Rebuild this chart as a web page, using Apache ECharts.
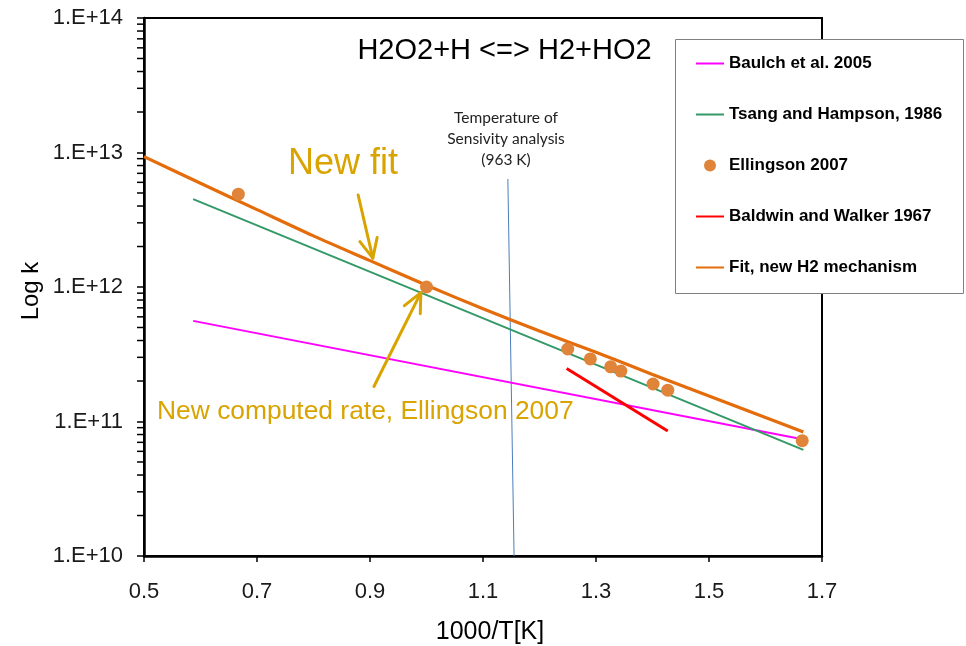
<!DOCTYPE html>
<html><head><meta charset="utf-8">
<script src="https://cdn.jsdelivr.net/npm/echarts@6/dist/echarts.min.js"></script>
<style>html,body{margin:0;padding:0;background:#fff}#c{width:966px;height:646px}</style>
</head><body><div id="c"></div>
<script>
// ---- data (x = 1000/T [K], y = k) ----
const fitX = [0.5, 0.6, 0.7, 0.8, 0.9, 1.0, 1.1, 1.2, 1.3, 1.4, 1.5, 1.6, 1.667];
const fitK = [9.31e12, 5.90e12, 3.76e12, 2.40e12, 1.57e12, 1.03e12, 6.89e11, 4.71e11, 3.27e11, 2.24e11, 1.55e11, 1.07e11, 8.36e10];
const tsangX = [0.587, 1.667];
const tsangK = [4.5e12, 6.15e10];
const baulchX = [0.587, 1.663];
const baulchK = [5.6e11, 7.4e10];
const baldwinX = [1.248, 1.427];
const baldwinK = [2.48e11, 8.5e10];
const ellX = [0.667, 1.0, 1.25, 1.29, 1.326, 1.344, 1.401, 1.427, 1.665];
const ellK = [4.9e12, 1.0e12, 3.46e11, 2.92e11, 2.55e11, 2.37e11, 1.90e11, 1.71e11, 7.2e10];
const sensX = [1.144, 1.155];
const sensK = [6.35e12, 1.0e10];
const seriesNames = ['Baulch et al. 2005', 'Tsang and Hampson, 1986', 'Ellingson 2007', 'Baldwin and Walker 1967', 'Fit, new H2 mechanism'];
const yDecades = [10, 11, 12, 13];
const minorMult = [2, 3, 4, 5, 6, 7, 8, 9];
// annotation arrows (data coords): [tailX, tailK, tipX, tipK]
const arrowNewFit = [0.879, 4.83e12, 0.905, 1.64e12];
const arrowEll = [0.907, 1.82e11, 0.990, 9.08e11];

const zip = (xs, ys) => xs.map((x, i) => [x, ys[i]]);
const minorTicks = [];
yDecades.forEach(d => minorMult.forEach(m => minorTicks.push([0.5, m * Math.pow(10, d)])));

const gold = '#D9A300';
const sans = 'Liberation Sans, Arial, sans-serif';
const lineIcon = 'path://M0,0H28V2H0Z';
const chart = echarts.init(document.getElementById('c'));
chart.setOption({
  animation: false,
  backgroundColor: '#fff',
  grid: { left: 144, top: 18, right: 144, bottom: 90, show: true, borderColor: '#000', borderWidth: 2 },
  xAxis: {
    type: 'value', min: 0.5, max: 1.7, interval: 0.2,
    axisLine: { lineStyle: { color: '#000', width: 2.5 } },
    axisTick: { show: true, inside: false, length: 6, lineStyle: { color: '#000', width: 1.5 } },
    axisLabel: { fontSize: 22, color: '#1a1a1a', fontFamily: sans, margin: 25, formatter: v => v.toFixed(1) },
    splitLine: { show: false }
  },
  yAxis: {
    type: 'log', logBase: 10, min: 1e10, max: 1e14, splitNumber: 4,
    axisLine: { show: true, lineStyle: { color: '#000', width: 2.5 } },
    axisTick: { show: true, inside: false, length: 7, lineStyle: { color: '#000', width: 1.5 } },
    axisLabel: { fontSize: 22, color: '#1a1a1a', fontFamily: sans, margin: 21, formatter: v => '1.E+' + Math.round(Math.log10(v)) },
    splitLine: { show: false }
  },
  legend: {
    orient: 'vertical', left: 696, top: 55, padding: 0,
    itemWidth: 28, itemHeight: 12, itemGap: 34, z: 20, symbolKeepAspect: true,
    data: [
      { name: seriesNames[0], icon: lineIcon },
      { name: seriesNames[1], icon: lineIcon },
      { name: seriesNames[2], icon: 'circle', itemStyle: { opacity: 1 } },
      { name: seriesNames[3], icon: lineIcon },
      { name: seriesNames[4], icon: lineIcon }
    ],
    textStyle: { fontFamily: sans, fontWeight: 'bold', fontSize: 17, lineHeight: 17, color: '#000' }
  },
  series: [
    { name: seriesNames[0], type: 'line', data: zip(baulchX, baulchK), showSymbol: false, symbol: 'none',
      lineStyle: { color: '#FF00FF', width: 2 }, itemStyle: { color: '#FF00FF' }, z: 3 },
    { name: seriesNames[1], type: 'line', data: zip(tsangX, tsangK), showSymbol: false, symbol: 'none',
      lineStyle: { color: '#339966', width: 2 }, itemStyle: { color: '#339966' }, z: 3 },
    { name: seriesNames[2], type: 'scatter', data: zip(ellX, ellK), symbol: 'circle', symbolSize: 13,
      itemStyle: { color: '#E0843A', opacity: 1 }, z: 6 },
    { name: seriesNames[3], type: 'line', data: zip(baldwinX, baldwinK), showSymbol: false, symbol: 'none',
      lineStyle: { color: '#FF0000', width: 3 }, itemStyle: { color: '#FF0000' }, z: 4 },
    { name: seriesNames[4], type: 'line', data: zip(fitX, fitK), showSymbol: false, symbol: 'none', smooth: 0.3,
      lineStyle: { color: '#E46C0A', width: 3.2 }, itemStyle: { color: '#E46C0A' }, z: 5 },
    { name: 'sens', type: 'line', data: zip(sensX, sensK), showSymbol: false, symbol: 'none',
      lineStyle: { color: '#4A7EBB', width: 1 }, z: 2 },
    { name: 'minor', type: 'scatter', data: minorTicks, symbol: 'rect', symbolSize: [6, 1.5], symbolOffset: [-4, 0],
      itemStyle: { color: '#000', opacity: 1 }, clip: false, silent: true, z: 1 }
  ]
});

function arrowGraphics(a) {
  const tail = chart.convertToPixel({ gridIndex: 0 }, [a[0], a[1]]);
  const tip = chart.convertToPixel({ gridIndex: 0 }, [a[2], a[3]]);
  const dx = tail[0] - tip[0], dy = tail[1] - tip[1];
  const len = Math.hypot(dx, dy), ux = dx / len, uy = dy / len;
  const L = 21, ang = 25 * Math.PI / 180;
  const rot = (s) => [tip[0] + L * (ux * Math.cos(s) - uy * Math.sin(s)), tip[1] + L * (ux * Math.sin(s) + uy * Math.cos(s))];
  const style = { stroke: gold, lineWidth: 3, fill: null, lineCap: 'round', lineJoin: 'round' };
  return [
    { type: 'polyline', shape: { points: [tail, tip] }, style, z: 30 },
    { type: 'polyline', shape: { points: [rot(ang), tip, rot(-ang)] }, style, z: 30 }
  ];
}

chart.setOption({
  graphic: [
    { type: 'rect', shape: { x: 675.5, y: 39.5, width: 288, height: 254 }, style: { fill: '#fff', stroke: '#7f7f7f', lineWidth: 1 }, z: 10 },
    { type: 'text', x: 504.5, y: 51, style: { text: 'H2O2+H <=> H2+HO2', font: '29px ' + sans, fill: '#000', align: 'center', verticalAlign: 'middle' }, z: 30 },
    { type: 'text', x: 288, y: 164, style: { text: 'New fit', font: '36px ' + sans, fill: gold, align: 'left', verticalAlign: 'middle' }, z: 30 },
    { type: 'text', x: 157, y: 412, style: { text: 'New computed rate, Ellingson 2007', font: '26.4px ' + sans, fill: gold, align: 'left', verticalAlign: 'middle' }, z: 30 },
    { type: 'text', x: 506, y: 139, style: { text: 'Temperature of\nSensivity analysis\n(963 K)', font: '15.5px Lato, sans-serif', lineHeight: 21, fill: '#222', align: 'center', verticalAlign: 'middle' }, z: 30 },
    { type: 'text', x: 31, y: 291, rotation: Math.PI / 2, style: { text: 'Log k', font: '24px ' + sans, fill: '#000', align: 'center', verticalAlign: 'middle' }, z: 30 },
    { type: 'text', x: 490, y: 632, style: { text: '1000/T[K]', font: '25px ' + sans, fill: '#000', align: 'center', verticalAlign: 'middle' }, z: 30 },
    ...arrowGraphics(arrowNewFit),
    ...arrowGraphics(arrowEll)
  ]
});
</script>
</body></html>
